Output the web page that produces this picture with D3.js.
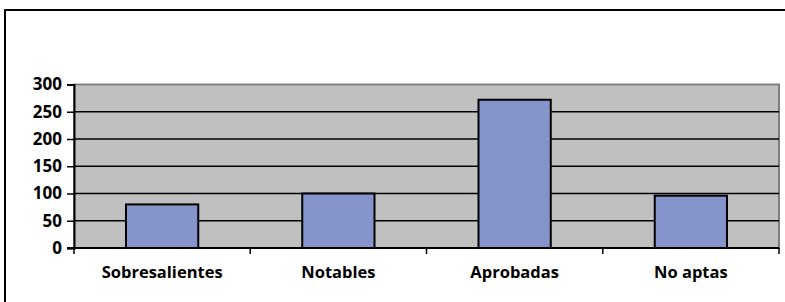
<!DOCTYPE html>
<html>
<head>
<meta charset="utf-8">
<script src="https://cdn.jsdelivr.net/npm/d3@7"></script>
<style>
  html, body { margin: 0; padding: 0; background: #fff; }
  text { font-family: "Open Sans", Lato, sans-serif; font-weight: 700; }
</style>
</head>
<body>
<svg id="chart" width="785" height="302"></svg>
<script>
const categorias = ["Sobresalientes", "Notables", "Aprobadas", "No aptas"];
const valores = [80, 100, 272, 96];
const ticksY = [0, 50, 100, 150, 200, 250, 300];

const svg = d3.select("#chart");
const m = { left: 74, right: 779, top: 84.5, bottom: 248 };

// marco exterior
svg.append("rect")
  .attr("x", 5).attr("y", 10)
  .attr("width", 790).attr("height", 310)
  .attr("fill", "none").attr("stroke", "#000").attr("stroke-width", 2);

const x = d3.scaleBand()
  .domain(categorias)
  .range([m.left, m.right])
  .paddingInner(0.59)
  .paddingOuter(0.295);

const y = d3.scaleLinear().domain([0, 300]).range([m.bottom, m.top]);

// fondo del área de trazado
svg.append("rect")
  .attr("x", m.left).attr("y", m.top)
  .attr("width", m.right - m.left).attr("height", m.bottom - m.top)
  .attr("fill", "#c0c0c0").attr("stroke", "#808080").attr("stroke-width", 2);

// líneas de división
svg.append("g")
  .selectAll("line")
  .data(ticksY.filter(d => d > 0 && d < 300))
  .enter().append("line")
  .attr("x1", m.left).attr("x2", m.right)
  .attr("y1", d => y(d)).attr("y2", d => y(d))
  .attr("stroke", "#000").attr("stroke-width", 1.5);

// barras
svg.append("g")
  .selectAll("rect")
  .data(valores)
  .enter().append("rect")
  .attr("x", (d, i) => x(categorias[i]))
  .attr("y", d => y(d))
  .attr("width", x.bandwidth())
  .attr("height", d => m.bottom - y(d))
  .attr("fill", "#8595cc")
  .attr("stroke", "#000").attr("stroke-width", 2);

// eje Y
const ejeY = svg.append("g")
  .attr("transform", `translate(${m.left},0)`)
  .call(d3.axisLeft(y).tickValues(ticksY).tickSize(7).tickPadding(5));
ejeY.select(".domain").attr("stroke", "#000").attr("stroke-width", 2);
ejeY.selectAll(".tick line").attr("stroke", "#000").attr("stroke-width", 1.5);
ejeY.selectAll("text").attr("font-size", 17).attr("fill", "#000")
  .style("font-family", "'Open Sans', sans-serif").style("font-weight", 700);

// eje X
const limites = categorias.map(c => x(c) - x.step() * x.paddingInner() / 2)
  .concat([m.right]);
svg.append("line")
  .attr("x1", m.left - 7).attr("x2", m.right)
  .attr("y1", m.bottom).attr("y2", m.bottom)
  .attr("stroke", "#000").attr("stroke-width", 2);
svg.append("g")
  .selectAll("line")
  .data(limites)
  .enter().append("line")
  .attr("x1", d => d).attr("x2", d => d)
  .attr("y1", m.bottom).attr("y2", m.bottom + 6)
  .attr("stroke", "#000").attr("stroke-width", 1.5);

svg.append("g")
  .selectAll("text")
  .data(categorias)
  .enter().append("text")
  .attr("x", d => x(d) + x.bandwidth() / 2)
  .attr("y", 278)
  .attr("text-anchor", "middle")
  .attr("font-size", 16.5)
  .attr("fill", "#000")
  .text(d => d);
</script>
</body>
</html>
